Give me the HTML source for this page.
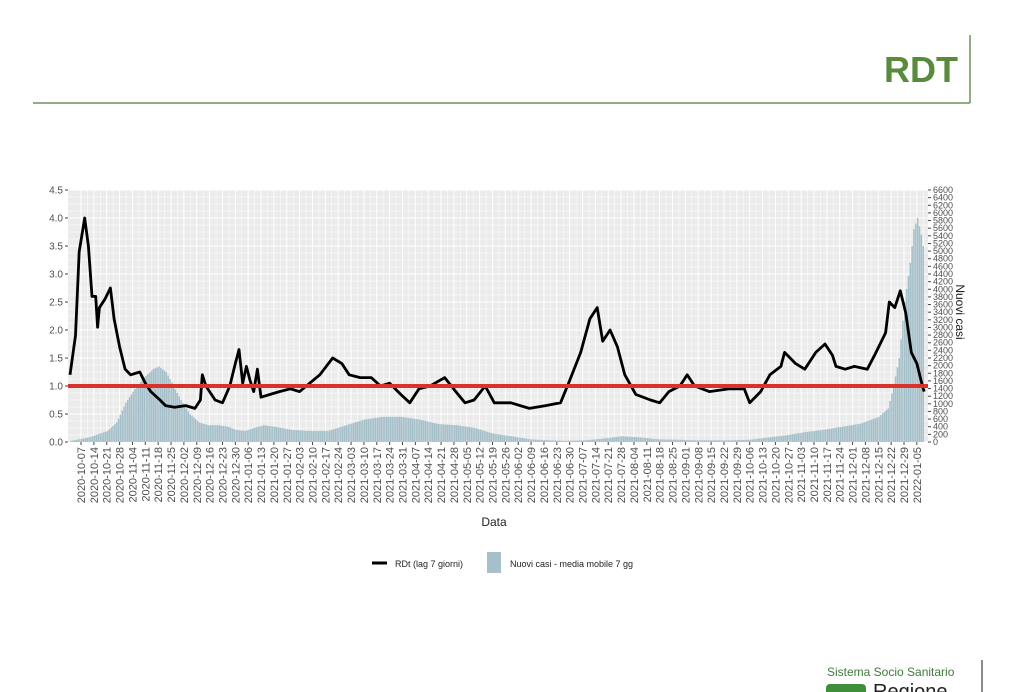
<!DOCTYPE html>
<html><head><meta charset="utf-8"><style>
body{margin:0;background:#fff;font-family:"Liberation Sans",sans-serif;}
#wrap{position:relative;width:1024px;height:692px;overflow:hidden;}
</style></head><body>
<div id="wrap">
<svg id="chart" width="1024" height="692" style="position:absolute;left:0;top:0"></svg>
</div>
<script>
const rdtDays=[0,3,5,8,10,12,14,15,16,19,22,24,27,30,33,38,41,44,49,52,57,63,68,71,72,74,76,79,83,87,90,92,94,96,98,100,102,104,109,114,120,125,136,143,148,152,158,164,169,174,180,185,190,196,204,210,215,220,226,231,240,250,259,267,272,278,283,287,290,294,298,302,308,316,321,326,332,336,340,348,359,367,370,376,381,387,389,395,400,406,411,415,417,422,427,434,438,444,446,449,452,455,458,461,464,465];
const rdtVals=[1.2,1.9,3.4,4.0,3.5,2.6,2.6,2.05,2.4,2.55,2.75,2.2,1.7,1.3,1.2,1.25,1.05,0.9,0.75,0.65,0.62,0.65,0.6,0.75,1.2,1.0,0.9,0.75,0.7,1.0,1.4,1.65,1.05,1.35,1.1,0.9,1.3,0.8,0.85,0.9,0.95,0.9,1.2,1.5,1.4,1.2,1.15,1.15,1.0,1.05,0.85,0.7,0.95,1.0,1.15,0.9,0.7,0.75,1.0,0.7,0.7,0.6,0.65,0.7,1.1,1.6,2.2,2.4,1.8,2.0,1.7,1.2,0.85,0.75,0.7,0.9,1.0,1.2,1.0,0.9,0.95,0.95,0.7,0.9,1.2,1.35,1.6,1.4,1.3,1.6,1.75,1.55,1.35,1.3,1.35,1.3,1.55,1.95,2.5,2.4,2.7,2.3,1.6,1.4,1.0,0.9];
const caseDays=[0,10,20,25,30,35,40,45,48,52,56,60,65,70,75,80,85,90,95,100,105,110,120,130,140,150,160,170,180,190,200,210,220,230,240,250,260,270,280,290,300,310,320,330,340,350,360,370,380,390,400,410,420,430,440,445,448,451,454,457,459,461,463,465];
const caseVals=[30,120,290,510,1030,1390,1690,1910,1980,1830,1470,1100,730,510,440,440,410,320,290,370,440,410,320,290,290,440,590,660,660,590,470,440,370,220,150,70,45,30,45,90,150,120,70,60,45,45,45,60,120,180,260,320,400,480,660,880,1470,2200,3670,4690,5570,5870,5430,4840];
const leftTicks=[0,0.5,1,1.5,2,2.5,3,3.5,4,4.5];
const threshold=[1.0];
const rightTicks=[];for(let v=0;v<=6600;v+=200)rightTicks.push(v);
const start=new Date(Date.UTC(2020,9,1));
const X0=70,PXD=1.837,PL=68,PR=928,PT=190,PB=442;
const x=d=>X0+d*PXD;
const yL=v=>PB-(v/4.5)*(PB-PT);
const yR=v=>PB-(v/6600)*(PB-PT);
const NS="http://www.w3.org/2000/svg";
const svg=document.getElementById('chart');
function mk(t,a,p){const e=document.createElementNS(NS,t);for(const k in a)e.setAttribute(k,a[k]);(p||svg).appendChild(e);return e;}
let t=mk('text',{x:958,y:82,'text-anchor':'end','font-size':36,'font-weight':'bold',fill:'#5a8a3c'});t.textContent='RDT';


let l=mk('line',{x1:33,y1:103,x2:970,y2:103,stroke:'#6f8f5a','stroke-width':1.5});


l=mk('line',{x1:970,y1:35,x2:970,y2:103,stroke:'#6f8f5a','stroke-width':1.5});


let bg=mk('rect',{x:PL,y:PT,width:PR-PL,height:PB-PT,fill:'#ebebeb'});


for(let v=0;v<=4.5;v+=0.125){mk('line',{x1:PL,x2:PR,y1:yL(v),y2:yL(v),stroke:'#fff','stroke-width':(Math.abs(v*2-Math.round(v*2))<1e-6)?1:0.5});}
for(let d=6;d<=465;d+=3.5){mk('line',{x1:x(d),x2:x(d),y1:PT,y2:PB,stroke:'#fff','stroke-width':((d-6)%7===0)?1:0.5});}
const bars=mk('g',{});


for(let i=0;i<caseDays.length-1;i++){
  const d0=caseDays[i],d1=caseDays[i+1];
  for(let d=d0;d<d1;d++){
    const v=caseVals[i]+(caseVals[i+1]-caseVals[i])*(d-d0)/(d1-d0);
    const r=mk('rect',{x:x(d),y:yR(v),width:PXD*0.85,height:PB-yR(v),fill:'#a6c0ca'},bars);
    
    
  }
}
let pd=rdtDays.map((d,i)=>(i?'L':'M')+x(d).toFixed(1)+','+yL(rdtVals[i]).toFixed(1)).join('');
let line=mk('path',{d:pd,fill:'none',stroke:'#000','stroke-width':2.8,'stroke-linejoin':'round'});


let rl=mk('line',{x1:PL,x2:PR,y1:yL(threshold[0]),y2:yL(threshold[0]),stroke:'#d8322a','stroke-width':4});


leftTicks.forEach(v=>{
  mk('line',{x1:PL-3,x2:PL,y1:yL(v),y2:yL(v),stroke:'#444'});
  const tx=mk('text',{x:PL-5,y:yL(v)+3.5,'text-anchor':'end','font-size':10,fill:'#4d4d4d'});tx.textContent=v.toFixed(1);
  
  
});
rightTicks.forEach(v=>{
  mk('line',{x1:PR,x2:PR+3,y1:yR(v),y2:yR(v),stroke:'#444'});
  const tx=mk('text',{x:PR+5,y:yR(v)+3,'font-size':9,fill:'#4d4d4d'});tx.textContent=v;
  
  
});
let rt=mk('text',{transform:'translate(956,312) rotate(90)','text-anchor':'middle','font-size':12,fill:'#222'});rt.textContent='Nuovi casi';


for(let d=6;d<=461;d+=7){
  const dt=new Date(start.getTime()+d*86400000);
  const s=dt.toISOString().slice(0,10);
  mk('line',{x1:x(d),x2:x(d),y1:PB,y2:PB+3,stroke:'#444'});
  const tx=mk('text',{transform:`translate(${x(d)+4},${PB+5}) rotate(-90)`,'text-anchor':'end','font-size':11,fill:'#4d4d4d'});tx.textContent=s;
  
  
}
let xt=mk('text',{x:494,y:526,'text-anchor':'middle','font-size':12,fill:'#222'});xt.textContent='Data';


let lg=mk('g',{});


mk('line',{x1:372,x2:387,y1:563,y2:563,stroke:'#000','stroke-width':3},lg);
let lt=mk('text',{x:395,y:567,'font-size':9,fill:'#222'},lg);lt.textContent='RDt (lag 7 giorni)';


mk('rect',{x:487,y:552,width:14,height:21,fill:'#a6c0ca'},lg);
lt=mk('text',{x:510,y:567,'font-size':9,fill:'#222'},lg);lt.textContent='Nuovi casi - media mobile 7 gg';


let ft=mk('text',{x:827,y:676,'font-size':12,fill:'#3f7a3a'});ft.textContent='Sistema Socio Sanitario';


mk('line',{x1:982,x2:982,y1:660,y2:692,stroke:'#666','stroke-width':1.5});
let lo=mk('rect',{x:826,y:684,width:40,height:14,rx:4,fill:'#3e8e3a'});


let rg=mk('text',{x:873,y:698,'font-size':20,fill:'#222'});rg.textContent='Regione';


</script>
</body></html>
